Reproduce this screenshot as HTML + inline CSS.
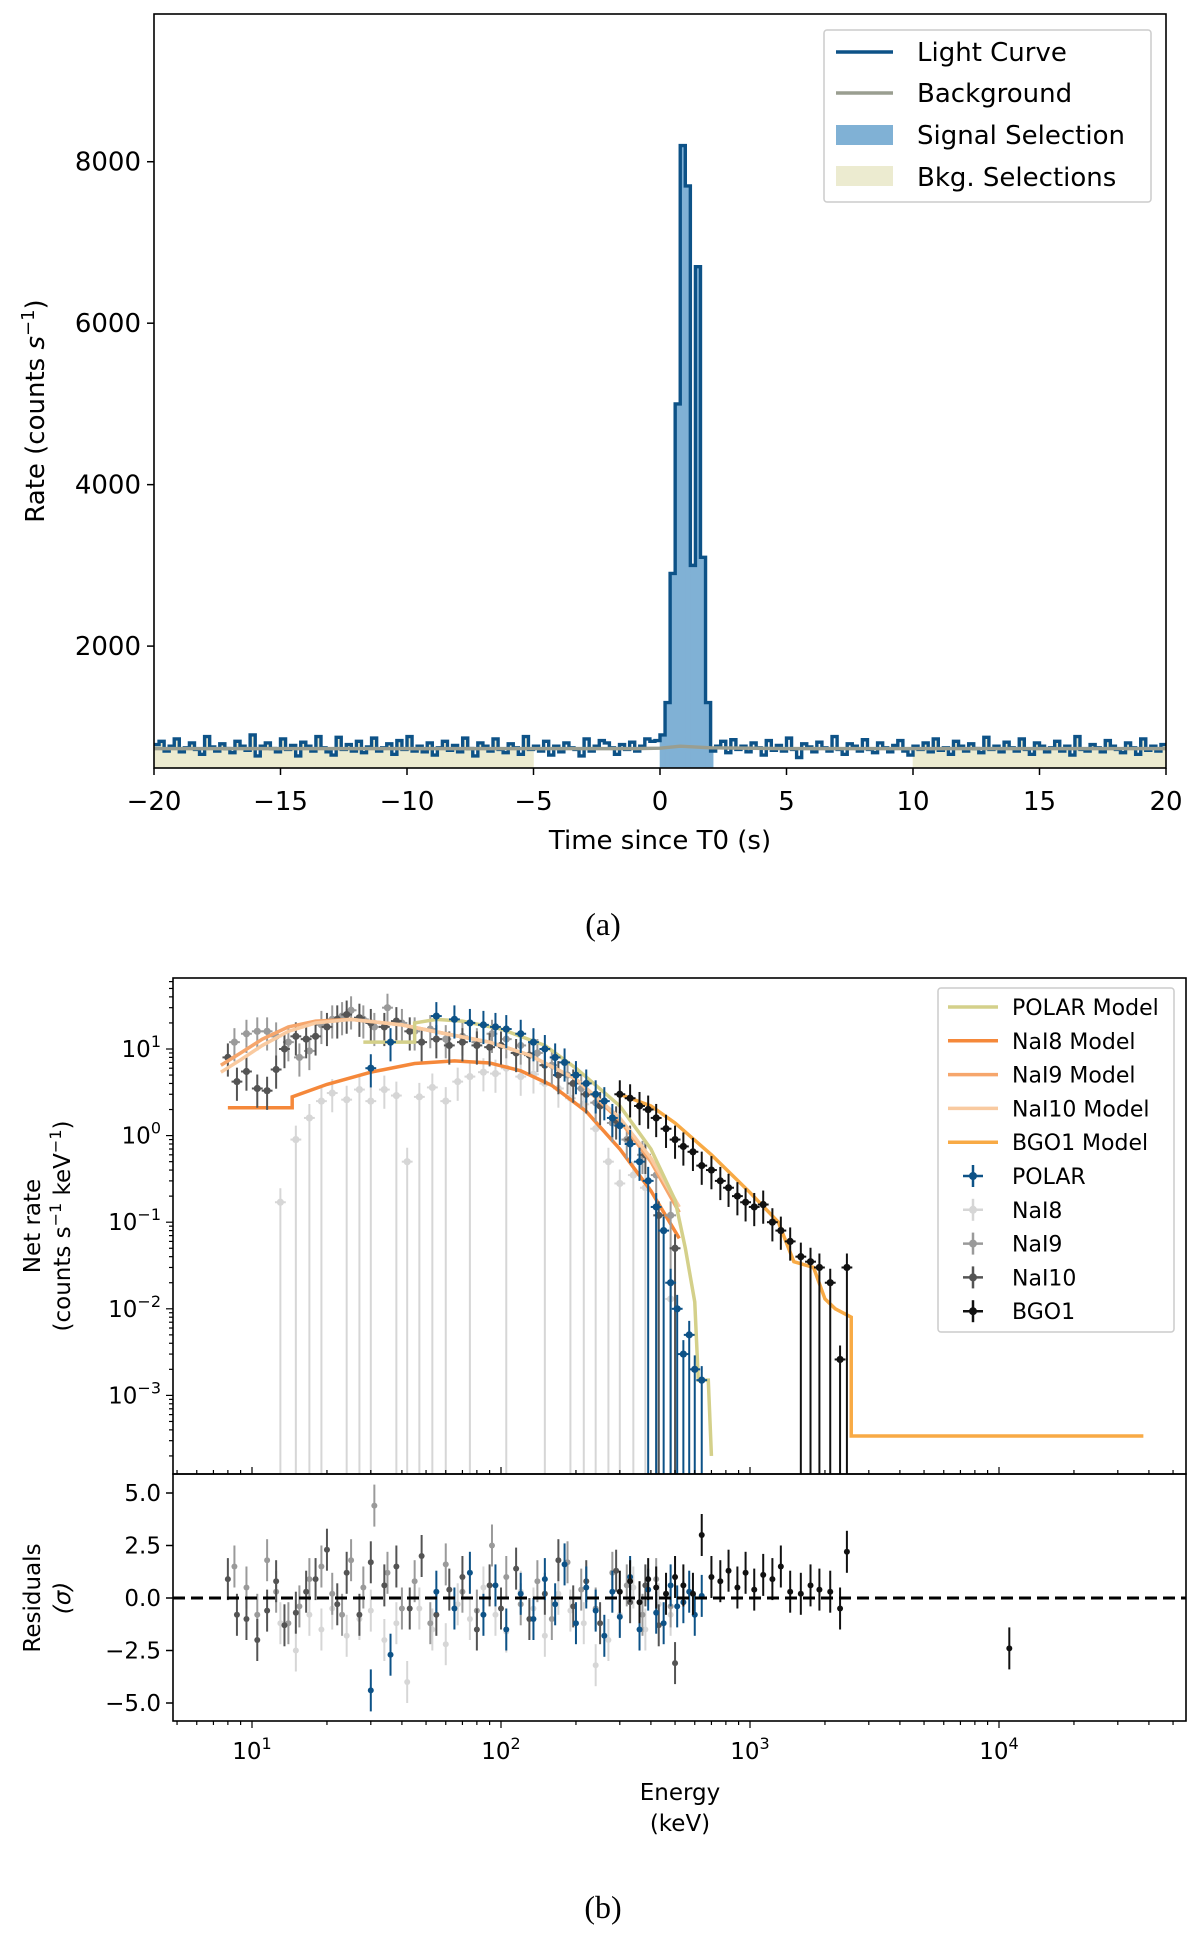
<!DOCTYPE html>
<html><head><meta charset="utf-8">
<style>
html,body{margin:0;padding:0;background:#fff;}
svg{display:block;font-family:"DejaVu Sans","Liberation Sans",sans-serif;}
</style></head>
<body>
<svg id="fig" width="1200" height="1941" viewBox="0 0 1200 1941" xmlns="http://www.w3.org/2000/svg">
<rect width="1200" height="1941" fill="#fff"/>
<g id="pa"></g>
<g id="pb"></g>
<g id="pc"></g>
<text x="603" y="935" text-anchor="middle" font-family="Liberation Serif, serif" font-size="32">(a)</text>
<text x="603" y="1918" text-anchor="middle" font-family="Liberation Serif, serif" font-size="32">(b)</text>
</svg>
<script>
// ---------- Panel (a) data ----------
const lcStart = -20, lcBin = 0.2;
const preRates = [
780,820,700,760,850,690,740,800,720,660,880,750,700,790,730,680,820,760,710,900,
640,760,800,730,690,850,720,770,640,810,760,700,880,740,690,650,870,720,780,700,
820,680,750,860,700,740,790,660,830,720,880,700,760,690,800,650,740,820,710,770,
690,860,730,640,800,760,700,850,720,680,790,740,660,880,720,760,700,820,650,760,
690,800,740,720,640,850,700,760,830,800,740,660,780,720,810,700,760,850,820,830
];
const burstRates = [900,1300,2900,5000,8200,7700,3000,6700,3100,1300];
const postRates = [
700,760,820,680,840,720,760,690,800,740,650,830,710,770,700,860,720,620,790,750,
690,810,740,700,880,720,660,790,760,700,840,720,680,800,740,690,770,830,700,650,
760,720,800,690,850,710,740,660,820,760,700,790,730,680,870,720,760,690,810,740,
700,850,720,660,800,760,690,740,820,700,760,650,880,720,700,780,740,690,830,760,
720,680,800,740,660,850,710,760,700,780
];
const lcRates = preRates.concat(burstRates, postRates);
const bkgRates = [730,730,735,760,740,730,730];
const bkgTimes = [-20,-1,0,0.8,2,5,20];
const yTicksA = [2000,4000,6000,8000];
const xTicksA = [-20,-15,-10,-5,0,5,10,15,20];

// ---------- Panel (b) data ----------
const nai8ModelE = [8,14.5,14.5,20,30,45,65,90,120,160,220,300,400,520];
const nai8ModelV = [2.1,2.1,2.8,3.9,5.4,6.8,7.3,6.9,5.6,3.8,1.9,0.7,0.23,0.065];
const nai9ModelE = [7.5,9,11,14,18,25,40,60,90,130,200,300,400,520];
const nai9ModelV = [6.5,9,13,18,21,22,19,15,12,8.5,4.5,1.5,0.5,0.13];
const nai10ModelE = [7.5,9,11,14,18,25,40,60,90,130,200,300,400,520];
const nai10ModelV = [5.4,7.5,11,16,20,22,19,15,12,8.5,4.5,1.6,0.55,0.15];
const polarModelE = [28,45,45,55,70,100,150,200,300,400,500,550,600,620,680,700];
const polarModelV = [12,12,20,22,21,17,11,6,2.2,0.7,0.18,0.05,0.012,0.0015,0.0015,0.0002];
const bgoModelE = [300,400,500,700,1000,1300,1500,1800,2000,2200,2550,2550,38000];
const bgoModelV = [3.0,2.2,1.4,0.6,0.22,0.1,0.035,0.03,0.013,0.01,0.008,0.00034,0.00034];

const nai8E = [13,15,17,19,21,24,27,30,34,38,42,47,53,60,67,75,85,95,105,120,135,150,170,190,215,240,270,300,340,380,430,480];
const nai8V = [0.17,0.9,1.6,2.5,3.1,2.6,3.4,2.5,3.4,2.9,0.5,2.8,3.6,2.5,4.2,4.8,5.4,5.2,6.0,4.8,5.1,4.0,3.5,2.7,2.3,1.2,0.5,0.28,0.35,0.25,0.12,0.013];
const nai8R = [-1.2,-2.5,-0.8,-1.5,-0.5,-1.8,-1.0,-0.6,-2.0,-1.2,-4.0,-0.5,-1.5,-2.2,-0.3,-1.0,0.5,-0.8,-1.6,0.3,-0.5,-1.8,0.2,-0.6,-1.2,-3.2,-2.0,-0.8,0.5,-1.5,-0.3,-0.8];
const nai9E = [8.5,9.5,10.5,11.5,12.5,14,15.5,17,19,21,23,25,28,31,35,40,45,52,60,70,80,92,105,120,140,160,185,210,240,280,320,370,420,480];
const nai9V = [12,15,16,16,14,12,8,9.5,19,22,24,28,22,18,30,20,16,17,13,14,12,15,13,11,9,6.5,5,3.5,2.4,1.4,0.9,0.6,0.35,0.12];
const nai9R = [1.5,0.5,-0.8,1.8,0.3,-1.2,-0.4,0.9,1.5,0.2,-0.8,1.8,0.5,4.4,1.2,-0.5,0.8,-1.2,1.6,0.3,-0.6,2.5,1.0,-0.3,0.8,-1.0,1.7,0.4,-0.5,1.2,0.6,-0.8,0.9,-0.4];
const nai10E = [8,8.7,9.5,10.5,11.5,12.5,13.5,15,16.5,18,20,22,24,27,30,34,38,43,48,55,62,70,80,90,100,115,130,150,170,195,220,250,290,330,380,430,500];
const nai10V = [8,4.2,5.5,3.5,3.3,5.8,10,14,13,14,18,22,25,23,20,18,21,16,12,13,11,12,11,10.5,11,9,8.5,6.5,5,4,3,2.2,1.5,0.9,0.6,0.12,0.05];
const nai10R = [0.9,-0.8,-1.0,-2.0,-0.6,0.8,-1.3,-0.7,0.3,0.9,2.3,-0.3,1.2,-0.8,1.7,0.6,1.5,-0.5,2.0,-0.8,0.4,1.0,-1.5,0.6,-0.5,1.4,-1.0,0.2,1.8,-0.4,0.8,-1.2,1.3,-0.2,0.6,-1.3,-3.1];
const polarE = [30,36,55,65,75,85,95,105,120,135,150,165,180,200,220,240,260,280,300,330,360,390,420,450,480,510,540,570,600,640];
const polarV = [6,12,24,22,20,19,18,17,15,12,10,8,7,5,4,3,2.5,1.6,1.3,0.8,0.5,0.3,0.15,0.08,0.02,0.01,0.003,0.005,0.002,0.0015];
const polarR = [-4.4,-2.7,0.3,-0.5,1.2,-0.8,0.6,-1.5,0.2,-1.0,0.9,-0.3,1.6,-1.2,0.5,-0.6,-1.8,0.3,-0.9,1.0,-1.5,0.4,-0.7,-1.2,0.6,-0.4,-0.2,0.3,-0.8,0.1];
const bgoE = [300,330,360,390,420,460,500,540,590,640,700,760,820,890,960,1040,1130,1230,1330,1450,1600,1750,1900,2100,2300,2450,11000];
const bgoV = [3.0,2.7,2.2,2.0,1.6,1.2,0.9,0.75,0.65,0.45,0.4,0.3,0.25,0.2,0.17,0.15,0.16,0.1,0.08,0.06,0.04,0.035,0.03,0.02,0.0026,0.03,null];
const bgoR = [0.3,0.8,-0.2,0.9,0.5,0.2,1.0,0.6,0.2,3.0,1.0,0.8,1.3,0.5,1.2,0.4,1.1,0.9,1.5,0.3,0.2,0.6,0.4,0.3,-0.5,2.2,-2.4];
const resTicks = [-5.0,-2.5,0.0,2.5,5.0];
const logYTicks = [-3,-2,-1,0,1];
const logXTicks = [1,2,3,4];

// ---------- helpers ----------
const NS = "http://www.w3.org/2000/svg";
function mk(tag, attrs, parent){const e=document.createElementNS(NS,tag);for(const k in attrs)e.setAttribute(k,attrs[k]);parent.appendChild(e);return e;}

// ---------- Panel (a) ----------
const pa = document.getElementById('pa');
const A = {l:154,r:1166,t:14,b:768,y0:490,y1:9830,x0:-20,x1:20};
const ax = t => A.l + (t-A.x0)/(A.x1-A.x0)*(A.r-A.l);
const ay = v => A.b - (v-A.y0)/(A.y1-A.y0)*(A.b-A.t);
mk('defs',{},pa).innerHTML='<clipPath id="clipA"><rect x="154" y="14" width="1012" height="754"/></clipPath>';
const ga = mk('g',{'clip-path':'url(#clipA)'},pa);
function fillRange(t0,t1,color,name){
  let d='';
  for(let i=0;i<lcRates.length;i++){
    const s=lcStart+i*lcBin, e=s+lcBin;
    if(e<=t0+1e-9||s>=t1-1e-9) continue;
    const a=Math.max(s,t0), b=Math.min(e,t1);
    d+=`M${ax(a)},${A.b}L${ax(a)},${ay(lcRates[i])}L${ax(b)},${ay(lcRates[i])}L${ax(b)},${A.b}Z`;
  }
  const p=mk('path',{d:d,fill:color,stroke:color,'stroke-width':0.6},ga);
  
  
}
fillRange(-20,-5,'#ecebd0','bkg-selection-left');
fillRange(10,20,'#ecebd0','bkg-selection-right');
fillRange(0,2.1,'#80b1d5','signal-selection');
let dl='';
lcRates.forEach((v,i)=>{const s=lcStart+i*lcBin;dl+=(i?'L':'M')+ax(s)+','+ay(v)+'L'+ax(s+lcBin)+','+ay(v);});
const lc=mk('path',{d:dl,fill:'none',stroke:'#0d5287','stroke-width':3.4},ga);


const bg=mk('polyline',{points:bkgTimes.map((t,i)=>ax(t)+','+ay(bkgRates[i])).join(' '),fill:'none',stroke:'#9a9e90','stroke-width':3.4},ga);


mk('rect',{x:A.l,y:A.t,width:A.r-A.l,height:A.b-A.t,fill:'none',stroke:'#000','stroke-width':1.6},pa);
yTicksA.forEach(v=>{
  mk('line',{x1:A.l-7,x2:A.l,y1:ay(v),y2:ay(v),stroke:'#000','stroke-width':1.5},pa);
  const t=mk('text',{x:A.l-13,y:ay(v)+9,'text-anchor':'end','font-size':26},pa);t.textContent=v;
  
  
});
xTicksA.forEach(v=>{
  mk('line',{x1:ax(v),x2:ax(v),y1:A.b,y2:A.b+7,stroke:'#000','stroke-width':1.5},pa);
  const t=mk('text',{x:ax(v),y:A.b+42,'text-anchor':'middle','font-size':26},pa);t.textContent=(v<0?'\u2212'+(-v):v);
  
  
});
pa.insertAdjacentHTML('beforeend',`
<text x="${(A.l+A.r)/2}" y="849" text-anchor="middle" font-size="26">Time since T0 (s)</text>
<text transform="translate(44,${(A.t+A.b)/2+20}) rotate(-90)" text-anchor="middle" font-size="26">Rate (counts <tspan font-style="italic">s</tspan><tspan dy="-10" font-size="18">−1</tspan><tspan dy="10">)</tspan></text>
<g>
<rect x="824" y="30" width="327" height="172" rx="3" fill="#fff" stroke="#ccc" stroke-width="1.5"/>
<line x1="836" x2="893" y1="52" y2="52" stroke="#0d5287" stroke-width="3.5"/>
<text x="917" y="61" font-size="26">Light Curve</text>
<line x1="836" x2="893" y1="93" y2="93" stroke="#9a9e90" stroke-width="3.5"/>
<text x="917" y="102" font-size="26">Background</text>
<rect x="836" y="125" width="57" height="20" fill="#80b1d5"/>
<text x="917" y="144" font-size="26">Signal Selection</text>
<rect x="836" y="166" width="57" height="20" fill="#ecebd0"/>
<text x="917" y="186" font-size="26">Bkg. Selections</text>
</g>`);

// ---------- Panel (b) ----------
const pb = document.getElementById('pb'), pc = document.getElementById('pc');
const B = {l:173,r:1186,t:978,b:1474};
const bx = E => 252 + (Math.log10(E)-1)*249;
const by = v => 1049 - (Math.log10(v)-1)*86.6;
const C = {t:1474,b:1721};
const cy = r => 1598 - r*21;
mk('defs',{},pb).innerHTML='<clipPath id="clipB"><rect x="173" y="978" width="1013" height="496"/></clipPath><clipPath id="clipC"><rect x="173" y="1474" width="1013" height="247"/></clipPath>';
const gb = mk('g',{'clip-path':'url(#clipB)'},pb);
const gc = mk('g',{'clip-path':'url(#clipC)'},pc);
function model(E,V,color,name){
  const p=mk('polyline',{points:E.map((e,i)=>bx(e)+','+by(V[i])).join(' '),fill:'none',stroke:color,'stroke-width':3.5},gb);
  
  
}
function data(E,V,R,color,name,loDeep,deepBelow){
  const g=mk('g',{},gb);  
  const g2=mk('g',{},gc);  
  E.forEach((e,i)=>{
    const x=bx(e), dx=Math.max(2,(bx(e*1.05)-bx(e*0.95))/2);
    if(V[i]!==null){
      const v=V[i], y=by(v);
      const deep = (loDeep && (v<3 || i%3===0)) || v<deepBelow;
      const lo = deep ? 1e-5 : v*0.6;
      mk('line',{x1:x,x2:x,y1:by(lo),y2:by(v*1.45),stroke:color,'stroke-width':2},g);
      mk('line',{x1:x-dx,x2:x+dx,y1:y,y2:y,stroke:color,'stroke-width':2},g);
      mk('circle',{cx:x,cy:y,r:3.6,fill:color},g);
    }
    const r=R[i], yr=cy(r);
    mk('line',{x1:x,x2:x,y1:cy(r-1),y2:cy(r+1),stroke:color,'stroke-width':2},g2);
    mk('circle',{cx:x,cy:yr,r:3,fill:color},g2);
  });
}
data(nai8E,nai8V,nai8R,'#d6d6d6','nai8',true,0);
model(nai8ModelE,nai8ModelV,'#f5883a','nai8-model');
data(nai9E,nai9V,nai9R,'#9a9a9a','nai9',false,0.4);
data(nai10E,nai10V,nai10R,'#545454','nai10',false,0.4);
model(nai9ModelE,nai9ModelV,'#f6a66c','nai9-model');
model(nai10ModelE,nai10ModelV,'#f9caa0','nai10-model');
model(polarModelE,polarModelV,'#d4d08a','polar-model');
data(polarE,polarV,polarR,'#0d5287','polar',false,0.35);
model(bgoModelE,bgoModelV,'#f8aa45','bgo1-model');
data(bgoE,bgoV,bgoR,'#111','bgo1',false,0.05);
mk('line',{x1:B.l,x2:B.r,y1:cy(0),y2:cy(0),stroke:'#000','stroke-width':3,'stroke-dasharray':'12,6'},gc);
mk('rect',{x:B.l,y:B.t,width:B.r-B.l,height:B.b-B.t,fill:'none',stroke:'#000','stroke-width':1.6},pb);
mk('rect',{x:B.l,y:C.t,width:B.r-B.l,height:C.b-C.t,fill:'none',stroke:'#000','stroke-width':1.6},pc);
for(let d=-4; d<=1; d++){
  for(let m=1;m<10;m++){
    const v=m*Math.pow(10,d), y=by(v);
    if(y<B.t||y>B.b) continue;
    mk('line',{x1:B.l-(m===1?7:4),x2:B.l,y1:y,y2:y,stroke:'#000','stroke-width':1.2},pb);
  }
}
logYTicks.forEach(d=>{
  const t=mk('text',{x:B.l-12,y:by(Math.pow(10,d))+8,'text-anchor':'end','font-size':23},pb);
  t.innerHTML='10<tspan dy="-10" font-size="16">'+(d<0?'\u2212'+(-d):d)+'</tspan>';
  
  
});
for(let d=0; d<=4; d++){
  for(let m=1;m<10;m++){
    const x=bx(m*Math.pow(10,d));
    if(x<B.l||x>B.r) continue;
    const len=m===1?7:4;
    mk('line',{x1:x,x2:x,y1:B.b,y2:B.b-len,stroke:'#000','stroke-width':1.2},pb);
    mk('line',{x1:x,x2:x,y1:C.b,y2:C.b+len,stroke:'#000','stroke-width':1.2},pc);
  }
}
logXTicks.forEach(d=>{
  const t=mk('text',{x:bx(Math.pow(10,d)),y:C.b+38,'text-anchor':'middle','font-size':23},pc);
  t.innerHTML='10<tspan dy="-10" font-size="16">'+d+'</tspan>';
  
  
});
resTicks.forEach(r=>{
  mk('line',{x1:B.l-7,x2:B.l,y1:cy(r),y2:cy(r),stroke:'#000','stroke-width':1.5},pc);
  const t=mk('text',{x:B.l-12,y:cy(r)+8,'text-anchor':'end','font-size':23},pc);
  t.textContent=(r<0?'\u2212':'')+Math.abs(r).toFixed(1);
  
  
});
pc.insertAdjacentHTML('beforeend',`
<text x="680" y="1800" text-anchor="middle" font-size="23">Energy</text>
<text x="680" y="1831" text-anchor="middle" font-size="23">(keV)</text>
<text transform="translate(40,1598) rotate(-90)" text-anchor="middle" font-size="23">Residuals</text>
<text transform="translate(70,1598) rotate(-90)" text-anchor="middle" font-size="23" font-style="italic">(σ)</text>`);
pb.insertAdjacentHTML('beforeend',`
<text transform="translate(40,1226) rotate(-90)" text-anchor="middle" font-size="23">Net rate</text>
<text transform="translate(70,1226) rotate(-90)" text-anchor="middle" font-size="23">(counts s<tspan dy="-9" font-size="16">−1</tspan><tspan dy="9"> keV</tspan><tspan dy="-9" font-size="16">−1</tspan><tspan dy="9">)</tspan></text>`);
const leg = mk('g',{},pb);


mk('rect',{x:938,y:988,width:236,height:344,rx:3,fill:'#fff',stroke:'#ccc','stroke-width':1.5},leg);
const legItems=[['POLAR Model','#d4d08a','l'],['NaI8 Model','#f5883a','l'],['NaI9 Model','#f6a66c','l'],['NaI10 Model','#f9caa0','l'],['BGO1 Model','#f8aa45','l'],['POLAR','#0d5287','p'],['NaI8','#d6d6d6','p'],['NaI9','#9a9a9a','p'],['NaI10','#545454','p'],['BGO1','#111','p']];
legItems.forEach((it,i)=>{
  const y=1007+i*33.8;
  if(it[2]==='l') mk('line',{x1:948,x2:998,y1:y,y2:y,stroke:it[1],'stroke-width':3.5},leg);
  else { mk('line',{x1:973,x2:973,y1:y-11,y2:y+11,stroke:it[1],'stroke-width':2.5},leg);
         mk('line',{x1:963,x2:983,y1:y,y2:y,stroke:it[1],'stroke-width':2.5},leg);
         mk('circle',{cx:973,cy:y,r:4,fill:it[1]},leg); }
  const t=mk('text',{x:1012,y:y+8,'font-size':22},leg); t.textContent=it[0];
  
  
});
</script>
</body></html>
